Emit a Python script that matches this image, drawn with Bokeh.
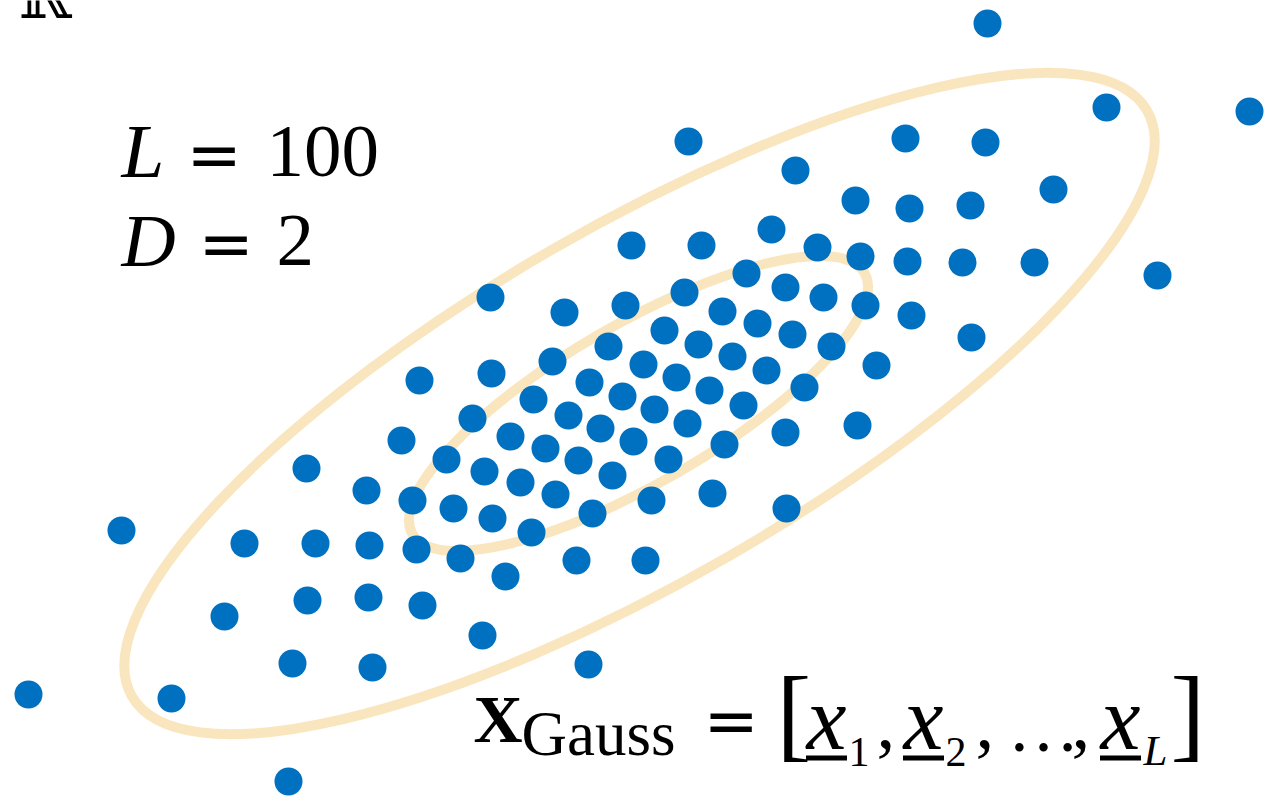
from bokeh.plotting import figure
from bokeh.models import Range1d
from bokeh.core.properties import value
from bokeh.embed import file_html
from bokeh.resources import INLINE
import math

# --- sample points (x, y in canvas units, y measured upward) ---
xs = [987, 1106, 1249, 688, 905, 985, 795, 1053, 855, 909,
      970, 771, 631, 701, 817, 860, 907, 962, 1034, 1157,
      490, 746, 684, 785, 564, 625, 722, 823, 865, 911,
      664, 757, 792, 971, 608, 698, 732, 831, 552, 643,
      676, 766, 876, 419, 491, 589, 622, 709, 804, 533,
      654, 743, 472, 568, 600, 687, 857, 401, 510, 633,
      724, 785, 446, 545, 578, 668, 306, 484, 520, 612,
      366, 412, 555, 651, 712, 786, 121, 453, 492, 592,
      531, 244, 315, 369, 416, 460, 576, 645, 505, 224,
      307, 368, 422, 482, 292, 372, 588, 28, 171, 288]
ys = [777, 693, 689, 659, 662, 658, 630, 611, 600, 592,
      595, 571, 555, 555, 553, 544, 539, 538, 538, 525,
      503, 527, 508, 513, 488, 495, 489, 503, 495, 485,
      470, 477, 466, 463, 454, 456, 444, 454, 439, 436,
      423, 430, 435, 420, 427, 418, 404, 410, 413, 401,
      391, 395, 382, 385, 372, 377, 375, 360, 364, 359,
      356, 368, 341, 352, 340, 341, 332, 329, 318, 325,
      310, 300, 306, 300, 307, 292, 270, 292, 282, 287,
      268, 257, 257, 255, 251, 242, 240, 240, 224, 184,
      200, 203, 195, 165, 137, 133, 136, 106, 102, 19]

# --- Gaussian contour ellipses: centre, full axes, rotation (deg) ---
ell_cx = [639, 638]
ell_cy = [397, 397]
ell_w = [1172, 522]
ell_h = [354, 159]
ell_angle_deg = [30, 30]

W, H = 1268, 800
p = figure(width=W, height=H, output_backend="svg", toolbar_location=None,
           x_range=Range1d(0, W), y_range=Range1d(0, H),
           min_border=0, min_border_left=0, min_border_right=0,
           min_border_top=0, min_border_bottom=0)
p.axis.visible = False
p.grid.visible = False
p.outline_line_color = None
p.background_fill_color = "white"
p.border_fill_color = "white"

p.ellipse(x=ell_cx, y=ell_cy, width=ell_w, height=ell_h,
          angle=[math.radians(a) for a in ell_angle_deg],
          fill_color=None, line_color="#FAE6BE", line_width=10)

p.circle(x=xs, y=ys, radius=14, fill_color="#0070C0", line_color=None)

SERIF = value("Liberation Serif")
BASE_SHIFT = 0.36  # lifts glyphs so that y is the visual baseline


def txt(x, y, s, size, style="normal", font=SERIF):
    p.text(x=[x], y=[y + BASE_SHIFT * size], text=[s], text_font=font,
           text_font_size=value(f"{size}px"), text_font_style=style,
           text_color="black", text_align="left", text_baseline="alphabetic")


# space symbol in the corner (only its lower part lies inside the canvas)
txt(18, 781, "ℝ", 64, font=value("DejaVu Serif"))

# L = 100, D = 2
txt(121, 622, "L", 77, "italic")
txt(186, 622, "=", 66, font=value("DejaVu Sans"))
txt(266, 622, "100", 75)
txt(121, 533, "D", 75, "italic")
txt(198, 533, "=", 66, font=value("DejaVu Sans"))
txt(276, 533, "2", 75)

# X_Gauss = [x_1, x_2, ..., x_L]
txt(473, 57, "X", 68, "bold")
txt(521, 44, "Gauss", 63)
txt(703, 56, "=", 66, font=value("DejaVu Sans"))
txt(776, 51, "[", 104)
xpos = [806, 903, 1100]
subs = ["1", "2", "L"]
for xp, sb in zip(xpos, subs):
    txt(xp, 50, "x", 90, "italic")
    p.rect(x=[xp + 20], y=[42.5], width=41, height=5,
           fill_color="black", line_color=None)
    if sb == "L":
        txt(xp + 43, 35, sb, 43, "italic")
    else:
        txt(xp + 42, 33, sb, 42)
txt(876, 50, ",", 75)
txt(975, 50, ",", 75)
txt(1007, 48, "…", 72)
txt(1071, 50, ",", 75)
txt(1170, 51, "]", 104)

open("out.html", "w").write(file_html(p, INLINE))
